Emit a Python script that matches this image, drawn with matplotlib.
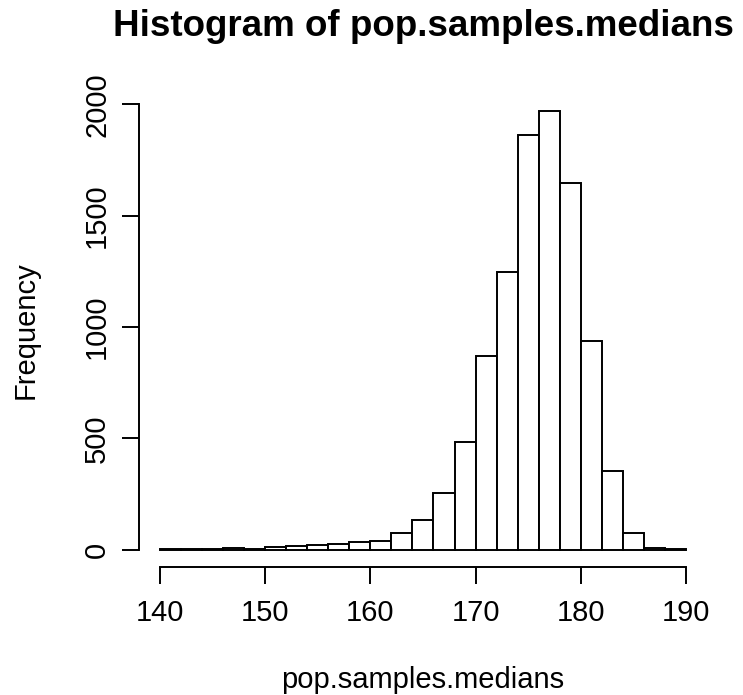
import numpy as np
import matplotlib
matplotlib.use("Agg")
from matplotlib import pyplot as plt

plt.rcParams['font.family'] = ['Liberation Sans', 'DejaVu Sans']

# histogram of medians, bin width 2
bin_edges = np.arange(140, 192, 2)
counts = [2, 3, 4, 5, 3, 10, 15, 19, 25, 36, 40, 73, 135, 255, 482,
          869, 1246, 1864, 1972, 1645, 936, 351, 73, 6, 2]
xticks = [140, 150, 160, 170, 180, 190]
yticks = [0, 500, 1000, 1500, 2000]

fig = plt.figure(figsize=(7.43, 6.95), dpi=100)
ax = fig.add_axes([0.187, 0.184, 0.7645, 0.682])

ax.bar(bin_edges[:-1], counts, width=2, align='edge',
       facecolor='white', edgecolor='black', linewidth=1.4)

ax.set_xlim(138, 192)
ax.set_ylim(-78.9, 2050.9)

for s in ['top', 'right']:
    ax.spines[s].set_visible(False)
ax.spines['left'].set_bounds(0, 2000)
ax.spines['bottom'].set_bounds(140, 190)
ax.spines['left'].set_linewidth(1.4)
ax.spines['bottom'].set_linewidth(1.4)

ax.set_xticks(xticks)
ax.set_yticks(yticks)
ax.set_yticklabels([str(v) for v in yticks], rotation=90, va='center')
ax.tick_params(axis='both', length=12, width=1.4, labelsize=21)
ax.tick_params(axis='x', pad=11)
ax.tick_params(axis='y', pad=8)

ax.set_xlabel('pop.samples.medians', fontsize=21, va='center')
ax.xaxis.set_label_coords(0.5, -0.238)
ax.set_ylabel('Frequency', fontsize=21, va='center')
ax.yaxis.set_label_coords(-0.2, 0.5)
ax.set_title('Histogram of pop.samples.medians', fontsize=26.5,
             fontweight='bold', y=1.122, va='center')

fig.savefig('out.png', dpi=100)
